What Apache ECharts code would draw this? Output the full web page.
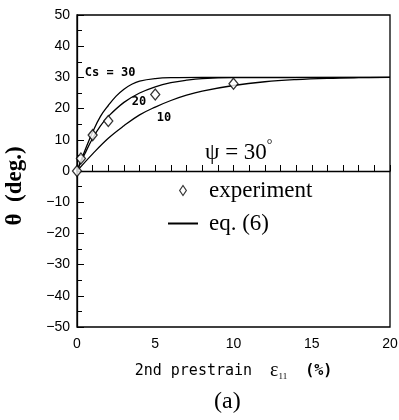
<!DOCTYPE html>
<html lang="en">
<head>
    <meta charset="UTF-8">
    <title>theta vs prestrain</title>
    <script src="https://cdn.jsdelivr.net/npm/echarts@6/dist/echarts.min.js"></script>
    <style>
        body { margin: 0; background: #fff; }
    </style>
</head>
<body>
<div id="main" style="width:399px;height:420px;"></div>
<script>
// values
var xTicks = [0, 5, 10, 15, 20];
var yTicks = [-50, -40, -30, -20, -10, 0, 10, 20, 30, 40, 50];

var cs30 = [[0, 0], [0.5, 6.5], [1, 12.5], [1.5, 17.5], [2, 21], [2.5, 24], [3, 26.2], [3.5, 27.8], [4, 28.8], [5, 29.6], [6, 29.9], [8, 30], [20, 30]];
var cs20 = [[0, 0], [0.5, 5.5], [1, 10.5], [1.5, 14.5], [2, 17.5], [3, 22], [4, 25], [5, 27], [6, 28.3], [7, 29.1], [8, 29.6], [10, 29.9], [20, 30]];
var cs10 = [[0, 0], [1, 5.5], [2, 10.5], [3, 14.5], [4, 18], [5, 20.5], [6, 22.6], [7, 24.3], [8, 25.6], [10, 27.4], [12, 28.6], [14, 29.3], [16, 29.7], [18, 29.9], [20, 30]];
var expData = [[0, 0], [0.25, 4], [1, 11.5], [2, 16], [5, 24.5], [10, 28]];

var curveNames = ['Cs = 30', '20', '10'];
var curveLabels = [[0.5, 31.4], [3.5, 22], [5.1, 17]];

var chart = echarts.init(document.getElementById('main'));

var lineStyle = { color: '#000', width: 1.3 };

function curve(data, idx) {
    return {
        name: 'eq. (6)',
        type: 'line',
        data: data,
        smooth: 0.4,
        symbol: 'none',
        lineStyle: lineStyle,
        itemStyle: { color: '#000' },
        markPoint: {
            symbol: 'rect',
            symbolSize: 0,
            data: [{
                coord: curveLabels[idx],
                label: {
                    show: true,
                    formatter: curveNames[idx],
                    position: 'right',
                    distance: 0,
                    color: '#000',
                    fontFamily: 'DejaVu Sans Mono',
                    fontWeight: 'bold',
                    fontSize: 12
                }
            }]
        },
        z: 2
    };
}

chart.setOption({
    animation: false,
    backgroundColor: '#fff',
    grid: {
        left: 77, right: 9, top: 15, bottom: 93,
        outerBoundsMode: 'none',
        show: true, borderColor: '#000', borderWidth: 1.3
    },
    xAxis: {
        type: 'value', min: 0, max: 20, interval: 5,
        name: '2nd prestrain  {e|ε}{s|11}  {b|(%)}',
        nameLocation: 'middle',
        nameGap: 34,
        nameTextStyle: {
            fontFamily: 'DejaVu Sans Mono', fontSize: 15, color: '#000',
            rich: {
                e: { fontFamily: 'Liberation Serif', fontSize: 20, color: '#000' },
                s: { fontFamily: 'Liberation Serif', fontSize: 9, color: '#000', verticalAlign: 'bottom', padding: [10, 0, 0, 0] },
                b: { fontFamily: 'DejaVu Sans Mono', fontSize: 15, fontWeight: 'bold', color: '#000' }
            }
        },
        axisLine: { lineStyle: { color: '#000', width: 1.3 } },
        axisTick: { inside: true, length: 6, lineStyle: { color: '#000' } },
        minorTick: { show: true, splitNumber: 5, length: 6, lineStyle: { color: '#000' } },
        axisLabel: { color: '#000', fontFamily: 'Liberation Sans', fontSize: 14, margin: 10 },
        splitLine: { show: false }
    },
    yAxis: {
        type: 'value', min: -50, max: 50, interval: 10,
        name: 'θ  (deg.)',
        nameLocation: 'middle',
        nameGap: 50,
        nameTextStyle: { fontFamily: 'Liberation Serif', fontWeight: 'bold', fontSize: 23, color: '#000', padding: [0, 30, 0, 0] },
        axisLine: { lineStyle: { color: '#000', width: 1.3 } },
        axisTick: { inside: true, length: 7, lineStyle: { color: '#000' } },
        minorTick: { show: true, splitNumber: 2, length: 5, lineStyle: { color: '#000' } },
        axisLabel: {
            color: '#000', fontFamily: 'Liberation Sans', fontSize: 14, margin: 7,
            formatter: function (v) { return v < 0 ? '\u2212' + Math.abs(v) : String(v); }
        },
        splitLine: { show: false }
    },
    legend: {
        orient: 'vertical',
        left: 162, top: 174,
        itemGap: 10,
        itemWidth: 30, itemHeight: 10,
        symbolKeepAspect: true,
        data: [
            {
                name: 'experiment',
                icon: 'path://M5,0 L9,6 L5,12 L1,6 Z',
                itemStyle: { color: '#fff', borderColor: '#000', borderWidth: 1.2 }
            },
            { name: 'eq. (6)', itemStyle: { opacity: 0 } }
        ],
        textStyle: { fontFamily: 'Liberation Serif', fontSize: 23, color: '#000', padding: [0, 0, 0, 6] }
    },
    graphic: [
        {
            type: 'text', left: 205, top: 138,
            style: {
                text: '{m|ψ = 30}{d|°}',
                rich: {
                    m: { font: '23px "Liberation Serif"', fill: '#000', verticalAlign: 'bottom' },
                    d: { font: '14px "Liberation Serif"', fill: '#000', verticalAlign: 'top', padding: [0, 0, 12, 0] }
                }
            }
        },
        { type: 'text', left: 214, top: 390, style: { text: '(a)', font: '24px "Liberation Serif"', fill: '#000' } }
    ],
    series: [
        curve(cs30, 0),
        curve(cs20, 1),
        curve(cs10, 2),
        {
            name: 'experiment',
            type: 'scatter',
            data: expData,
            symbol: 'diamond',
            symbolSize: [9, 11],
            itemStyle: { color: '#fff', borderColor: '#000', borderWidth: 1.3 },
            z: 3
        }
    ]
});
</script>
</body>
</html>
